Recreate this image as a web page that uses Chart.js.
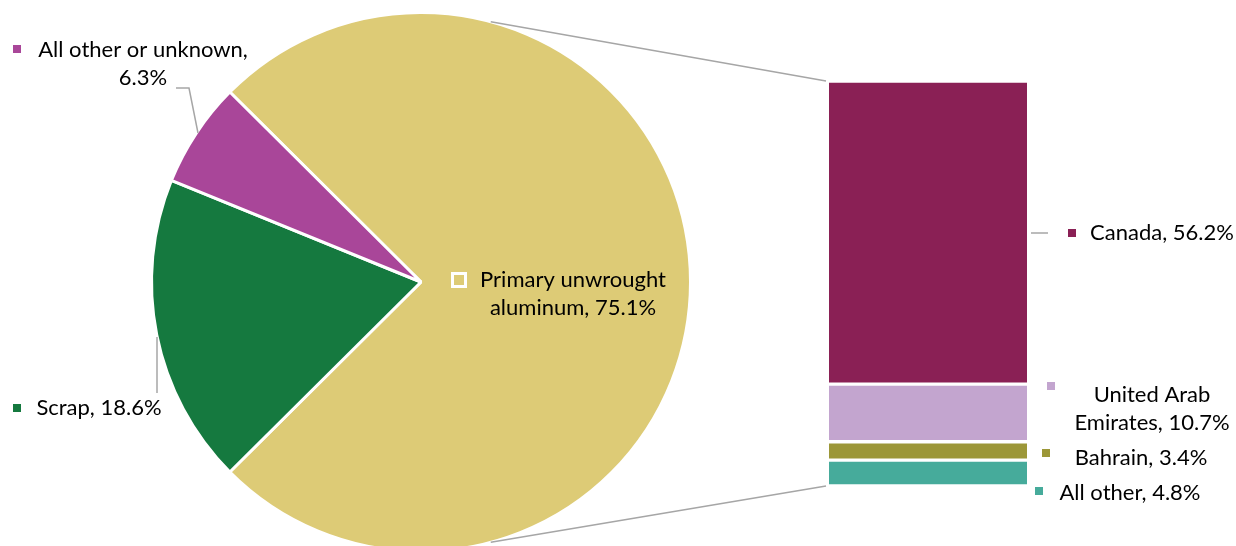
<!DOCTYPE html>
<html><head><meta charset="utf-8">
<script src="https://cdn.jsdelivr.net/npm/chart.js@4/dist/chart.umd.min.js"></script>
<style>
html,body{margin:0;padding:0;background:#fff;overflow:hidden;width:1236px;height:546px}
#pieBox{position:absolute;left:0;top:0;width:1236px;height:560px}
#barBox{position:absolute;left:0;top:0;width:1236px;height:546px}
</style></head>
<body>
<div id="pieBox"><canvas id="pie"></canvas></div>
<div id="barBox"><canvas id="bar"></canvas></div>
<script>
// ---- data ----
const pieLabels = ['Primary unwrought aluminum', 'Scrap', 'All other or unknown'];
const pieValues = [75.1, 18.6, 6.3];
const barLabels = ['Canada', 'United Arab Emirates', 'Bahrain', 'All other'];
const barValues = [56.2, 10.7, 3.4, 4.8];

// ---- styles ----
const pieColors = ['#DDCB76', '#15793F', '#A94699'];
const barColors = ['#8A2055', '#C3A5CF', '#9C9738', '#46AB9B'];
const FONT = '22px Lato, "Liberation Sans", sans-serif';
const LINE = '#A6A6A6';

const fmt = (n, v) => n + ', ' + v.toFixed(1) + '%';

// label layout: centre x of text block, centre y of first line, words on line 1, marker pos, leader lines
const pieLabelLayout = [
  {cx: 573, cy: 280, split: 2, marker: {x: 451, y: 272, s: 16, hollow: true}},
  {cx: 99, cy: 408, split: 99, marker: {x: 13, y: 404, s: 8}, leader: [[157, 337], [157, 393]]},
  {cx: 143, cy: 50, split: 4, marker: {x: 13, y: 45, s: 8}, leader: [[176, 88], [189, 88], [198, 133]]}
];
const barLabelLayout = [
  {cx: 1162, cy: 233, split: 99, marker: {x: 1068, y: 229, s: 8}, leader: [[1031, 233], [1048, 233]]},
  {cx: 1152, cy: 395, split: 2, marker: {x: 1047, y: 382, s: 8}},
  {cx: 1141, cy: 458, split: 99, marker: {x: 1042, y: 449, s: 8}},
  {cx: 1130, cy: 493, split: 99, marker: {x: 1035, y: 487, s: 8}}
];
const LH = 28;

function drawLabel(ctx, name, value, lay, color) {
  const text = fmt(name, value);
  const words = text.split(' ');
  const lines = words.length > lay.split ? [words.slice(0, lay.split).join(' '), words.slice(lay.split).join(' ')] : [text];
  ctx.save();
  if (lay.leader) {
    ctx.strokeStyle = LINE; ctx.lineWidth = 1.5;
    ctx.beginPath();
    lay.leader.forEach((p, i) => i ? ctx.lineTo(p[0], p[1]) : ctx.moveTo(p[0], p[1]));
    ctx.stroke();
  }
  const m = lay.marker;
  if (m.hollow) {
    ctx.fillStyle = '#fff'; ctx.fillRect(m.x, m.y, m.s, m.s);
    ctx.fillStyle = color; ctx.fillRect(m.x + 3, m.y + 3, m.s - 6, m.s - 6);
  } else {
    ctx.fillStyle = color; ctx.fillRect(m.x, m.y, m.s, m.s);
  }
  ctx.fillStyle = '#000'; ctx.font = FONT; ctx.textAlign = 'center'; ctx.textBaseline = 'middle';
  lines.forEach((l, i) => ctx.fillText(l, lay.cx, lay.cy + i * LH));
  ctx.restore();
}

Chart.defaults.animation = false;
Chart.defaults.plugins.legend.display = false;
Chart.defaults.plugins.tooltip.enabled = false;

const pieChart = new Chart(document.getElementById('pie'), {
  type: 'pie',
  data: {labels: pieLabels, datasets: [{data: pieValues, backgroundColor: pieColors, borderColor: '#fff', borderWidth: 3}]},
  options: {
    responsive: true, maintainAspectRatio: false,
    rotation: 90 - pieValues[0] / 100 * 180,
    layout: {padding: {left: 150, right: 544, top: 11, bottom: 7}},
    events: []
  }
});

const overlay = {
  id: 'overlay',
  afterDraw(chart) {
    const ctx = chart.ctx;
    const arc = pieChart.getDatasetMeta(0).data[0];
    const cx = arc.x, cy = arc.y, r = arc.outerRadius;
    const topBar = chart.getDatasetMeta(0).data[0];      // Canada (top)
    const botBar = chart.getDatasetMeta(barValues.length - 1).data[0];  // All other (bottom)
    const left = topBar.x - topBar.width / 2 - 3;
    const a = 75 * Math.PI / 180;
    ctx.save();
    ctx.strokeStyle = LINE; ctx.lineWidth = 1.5;
    ctx.beginPath();
    ctx.moveTo(cx + r * Math.cos(a), cy - r * Math.sin(a));
    ctx.lineTo(left, topBar.y);
    ctx.moveTo(cx + r * Math.cos(a), cy + r * Math.sin(a));
    ctx.lineTo(left, botBar.base);
    ctx.stroke();
    ctx.restore();
    pieLabels.forEach((l, i) => drawLabel(ctx, l, pieValues[i], pieLabelLayout[i], pieColors[i]));
    barLabels.forEach((l, i) => drawLabel(ctx, l, barValues[i], barLabelLayout[i], barColors[i]));
  }
};

// stacked column: Canada on top; stack from the last category upward
const total = barValues.reduce((s, v) => s + v, 0);
const n = barValues.length;
new Chart(document.getElementById('bar'), {
  type: 'bar',
  data: {
    labels: [''],
    datasets: barLabels.map((l, i) => ({
      label: l, data: [barValues[i]], backgroundColor: barColors[i],
      borderColor: '#fff', borderWidth: {top: 2, bottom: 2, left: 0, right: 0}, borderSkipped: false,
      order: n - 1 - i, stack: 's', barPercentage: 1, categoryPercentage: 1
    }))
  },
  options: {
    responsive: true, maintainAspectRatio: false,
    layout: {padding: {left: 829, right: 209, top: 81, bottom: 60}},
    scales: {
      x: {display: false, stacked: true},
      y: {display: false, stacked: true, min: 0, max: total}
    },
    events: []
  },
  plugins: [overlay]
});
</script>
</body></html>
